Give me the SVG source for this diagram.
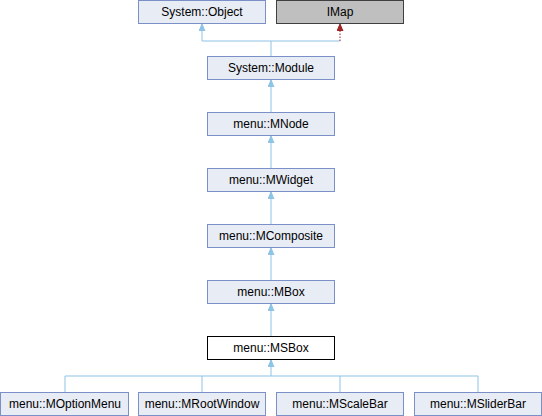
<svg xmlns="http://www.w3.org/2000/svg" width="542" height="416" viewBox="0 0 542 416">
<style>
.n rect{fill:#e8ecf5;stroke:#7b90c8;stroke-width:1}
.cur rect{fill:#ffffff;stroke:#000000}
.ext rect{fill:#bfbfbf;stroke:#404040}
text{font-family:"Liberation Sans",Arial,sans-serif;font-size:12px;text-anchor:middle;fill:#000}
.e{fill:none;stroke:#8ec3e6;stroke-width:1}
.d{fill:none;stroke:#a32424;stroke-width:1;stroke-dasharray:1.5,1.5}
</style>
<defs>
<marker id="a" markerWidth="7" markerHeight="7" refX="7" refY="3.5" orient="auto" markerUnits="userSpaceOnUse"><path d="M0,0.5 L7,3.5 L0,6.5 Z" fill="#8ec3e6" stroke="#8ec3e6"/></marker>
<marker id="r" markerWidth="7" markerHeight="7" refX="7" refY="3.5" orient="auto" markerUnits="userSpaceOnUse"><path d="M0,0.5 L7,3.5 L0,6.5 Z" fill="#a32424" stroke="#a32424"/></marker>
</defs>
<g id="edges">
<path class="e" d="M271,56 V41 H202 V24" marker-end="url(#a)"/>
<path class="e" d="M271,41 H340"/>
<path class="d" d="M340,41 V24" marker-end="url(#r)"/>
<path class="e" d="M271,112 V80" marker-end="url(#a)"/>
<path class="e" d="M271,168 V136" marker-end="url(#a)"/>
<path class="e" d="M271,224 V192" marker-end="url(#a)"/>
<path class="e" d="M271,280 V248" marker-end="url(#a)"/>
<path class="e" d="M271,336 V304" marker-end="url(#a)"/>
<path class="e" d="M65,392 V376 H478 V392 M202,376 V392 M340,376 V392"/>
<path class="e" d="M271,376 V360" marker-end="url(#a)"/>
</g>
<g id="SystemObject" class="n"><rect x="138.5" y="0.5" width="127" height="23"/><text x="202" y="16">System::Object</text></g>
<g id="IMap" class="n ext"><rect x="276.5" y="0.5" width="127" height="23"/><text x="340" y="16">IMap</text></g>
<g id="SystemModule" class="n"><rect x="207.5" y="56.5" width="127" height="23"/><text x="271" y="72">System::Module</text></g>
<g id="MNode" class="n"><rect x="207.5" y="112.5" width="127" height="23"/><text x="271" y="128">menu::MNode</text></g>
<g id="MWidget" class="n"><rect x="207.5" y="168.5" width="127" height="23"/><text x="271" y="184">menu::MWidget</text></g>
<g id="MComposite" class="n"><rect x="207.5" y="224.5" width="127" height="23"/><text x="271" y="240">menu::MComposite</text></g>
<g id="MBox" class="n"><rect x="207.5" y="280.5" width="127" height="23"/><text x="271" y="296">menu::MBox</text></g>
<g id="MSBox" class="n cur"><rect x="207.5" y="336.5" width="127" height="23"/><text x="271" y="352">menu::MSBox</text></g>
<g id="MOptionMenu" class="n"><rect x="0.5" y="392.5" width="128" height="23"/><text x="65" y="408">menu::MOptionMenu</text></g>
<g id="MRootWindow" class="n"><rect x="138.5" y="392.5" width="127" height="23"/><text x="202" y="408">menu::MRootWindow</text></g>
<g id="MScaleBar" class="n"><rect x="276.5" y="392.5" width="127" height="23"/><text x="340" y="408">menu::MScaleBar</text></g>
<g id="MSliderBar" class="n"><rect x="414.5" y="392.5" width="127" height="23"/><text x="478" y="408">menu::MSliderBar</text></g>
</svg>
